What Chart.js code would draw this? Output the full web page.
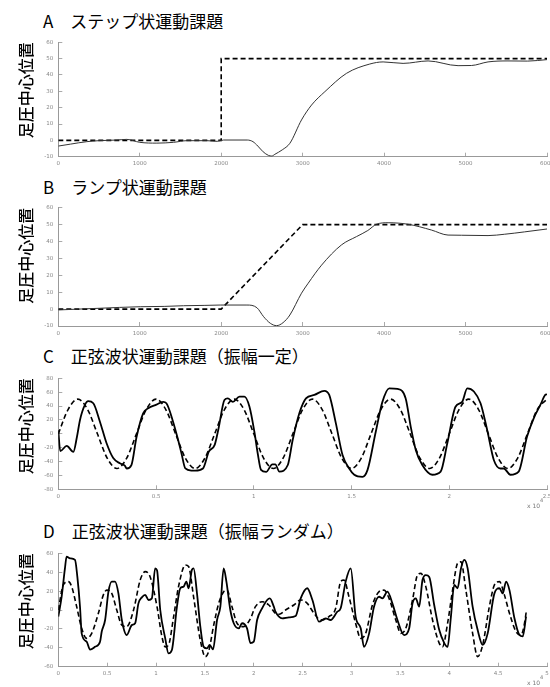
<!DOCTYPE html>
<html>
<head>
<meta charset="utf-8">
<script src="https://cdn.jsdelivr.net/npm/chart.js@4.4.0/dist/chart.umd.min.js"></script>
<style>
body { margin:0; width:550px; height:687px; overflow:hidden; background:#fff; position:relative; font-family:"Noto Sans CJK JP", sans-serif; }
.ttl { position:absolute; left:43px; font-size:17px; line-height:20px; white-space:pre; color:#000; }
canvas { position:absolute; left:0; }
</style>
</head>
<body>
<div class="ttl" style="top:11px">A　ステップ状運動課題</div>
<canvas id="cA" width="550" height="140" style="top:30px"></canvas>
<div class="ttl" style="top:177px">B　ランプ状運動課題</div>
<canvas id="cB" width="550" height="144" style="top:196px"></canvas>
<div class="ttl" style="top:346px">C　正弦波状運動課題（振幅一定）</div>
<canvas id="cC" width="550" height="148" style="top:366px"></canvas>
<div class="ttl" style="top:521px">D　正弦波状運動課題（振幅ランダム）</div>
<canvas id="cD" width="550" height="146" style="top:541px"></canvas>
<script>
// A: step
var aRefX = [0, 2000, 2000, 6000];
var aRefY = [0, 0, 50, 50];
var aRespX = [0, 150, 350, 500, 720, 840, 1000, 1210, 1415, 1580, 1825, 1950, 2030, 2320, 2390, 2450, 2515, 2580, 2620, 2660, 2750, 2843, 2986, 3109, 3273, 3538, 3824, 3988, 4233, 4540, 4908, 5072, 5276, 5521, 5763, 6000];
var aRespY = [-3.5, -2.3, -0.8, -0.2, 0.2, 0.6, -1.2, -1.7, -1.2, -0.2, -0.2, -0.6, 0.2, 0.2, -0.8, -3.5, -7, -9.2, -9.6, -8.5, -5.8, -1.8, 12.5, 21.6, 29.8, 41, 46.7, 48, 47.1, 48.6, 45.7, 45.8, 48, 48.6, 48.5, 49.4];

// B: ramp
var bRefX = [0, 2000, 3000, 6000];
var bRefY = [0, 0, 50, 50];
var bRespX = [0, 250, 511, 750, 1006, 1300, 1538, 1800, 1988, 2316, 2439, 2521, 2603, 2680, 2760, 2843, 2986, 3068, 3232, 3477, 3661, 3800, 3906, 4049, 4294, 4580, 4785, 4949, 5276, 5481, 5726, 6000];
var bRespY = [-0.5, 0, 0.5, 1, 1.4, 1.6, 2, 2.2, 2.4, 2.4, 0.8, -4.5, -8.4, -9.8, -8, -3.5, 9.4, 15.3, 26, 38, 42.9, 46.5, 50.2, 51.1, 50.2, 46.8, 43.8, 43.7, 43.5, 44.3, 45.7, 47.4];

// C: sine, constant amplitude (x in 10^4)
var cRefX = [0, 0.05, 0.1, 0.15, 0.2, 0.25, 0.3, 0.35, 0.4, 0.45, 0.5, 0.55, 0.6, 0.65, 0.7, 0.75, 0.8, 0.85, 0.9, 0.95, 1, 1.05, 1.1, 1.15, 1.2, 1.25, 1.3, 1.35, 1.4, 1.45, 1.5, 1.55, 1.6, 1.65, 1.7, 1.75, 1.8, 1.85, 1.9, 1.95, 2, 2.05, 2.1, 2.15, 2.2, 2.25, 2.3, 2.35, 2.4, 2.45, 2.5];
var cRefY = [0, 35, 50, 35, 0, -35, -50, -35, 0, 35, 50, 35, 0, -35, -50, -35, 0, 35, 50, 35, 0, -35, -50, -35, 0, 35, 50, 35, 0, -35, -50, -35, 0, 35, 50, 35, 0, -35, -50, -35, 0, 35, 50, 35, 0, -35, -50, -35, 0, 35, 50];
var cRespX = [0, 0.01, 0.043, 0.077, 0.095, 0.111, 0.136, 0.153, 0.179, 0.213, 0.247, 0.281, 0.315, 0.34, 0.35, 0.374, 0.4, 0.434, 0.46, 0.502, 0.536, 0.553, 0.587, 0.613, 0.63, 0.65, 0.68, 0.7, 0.74, 0.77, 0.8, 0.82, 0.85, 0.867, 0.893, 0.927, 0.952, 0.978, 1.003, 1.02, 1.037, 1.063, 1.095, 1.11, 1.131, 1.174, 1.199, 1.233, 1.267, 1.31, 1.361, 1.386, 1.42, 1.454, 1.488, 1.514, 1.556, 1.582, 1.624, 1.658, 1.693, 1.735, 1.777, 1.803, 1.829, 1.862, 1.913, 1.956, 1.99, 2.032, 2.066, 2.092, 2.126, 2.16, 2.194, 2.228, 2.262, 2.279, 2.313, 2.355, 2.398, 2.432, 2.466, 2.491, 2.5];
var cRespY = [5, -25, -17.5, -26, -5, 20, 41.6, 47, 44, 17.5, -13.7, -35, -42.5, -46, -50, -45, -5, 29.5, 36.8, 42, 46, 44, 17.5, -9, -28, -50, -53, -53, -50, -25.7, -16, 8, 48.8, 51, 46, 53.6, 53.6, 39, 3, -28, -52, -55, -44, -44, -54.5, -45, -9, 29.5, 51, 56, 62, 56, 15, -30.5, -50, -59, -62, -52, 3, 46, 65.6, 64.6, 51, 10, -23.6, -45, -59, -54.5, -13.7, 39, 46, 65.6, 61, 44, 5.5, -37.7, -50, -50, -59, -54.5, -4, 22.3, 41.6, 56, 57];

// D: sine, random amplitude (x in 10^4)
var dRefX = [0, 0.051, 0.103, 0.137, 0.188, 0.239, 0.29, 0.342, 0.41, 0.461, 0.496, 0.547, 0.598, 0.65, 0.7, 0.77, 0.838, 0.889, 0.94, 1.01, 1.06, 1.094, 1.128, 1.18, 1.23, 1.3, 1.333, 1.384, 1.453, 1.504, 1.538, 1.59, 1.641, 1.692, 1.726, 1.777, 1.829, 1.897, 1.966, 2.017, 2.085, 2.154, 2.222, 2.26, 2.325, 2.41, 2.48, 2.547, 2.616, 2.684, 2.769, 2.838, 2.889, 2.923, 2.974, 3.042, 3.094, 3.145, 3.214, 3.282, 3.333, 3.384, 3.453, 3.504, 3.555, 3.624, 3.675, 3.71, 3.76, 3.829, 3.897, 3.931, 3.983, 4.034, 4.085, 4.12, 4.17, 4.239, 4.29, 4.342, 4.41, 4.462, 4.513, 4.564, 4.616, 4.684, 4.735, 4.77, 4.79];
var dRefY = [0, 26.5, 30, 24.7, 3.5, -19.4, -30, -24.7, -3.5, 16, 21, 17.6, 0, -16, -17.6, 0, 31.7, 40.6, 35, 3.5, -28, -39, -37, -7, 24.7, 47.6, 46, 14, -32, -49.4, -44, -16, 7, 19.4, 21, 3.5, -14, -17.6, -9, 3.5, 8.8, 5.3, -3.5, -4.5, 0, 5.3, 10.6, 7, -3.5, -10.6, -7, 1.8, 30, 31.7, 14, -14, -30, -24.7, 5.3, 19.4, 21, 12.3, -10.6, -24.7, -19.4, 10.6, 37, 38.8, 24.7, -10.6, -35, -39, -14, 21, 49.4, 51, 21, -24.7, -49.4, -37, 3.5, 26.5, 30, 16, -3.5, -23, -26.5, -14, 0];
var dRespX = [0, 0.034, 0.068, 0.085, 0.12, 0.171, 0.195, 0.222, 0.239, 0.29, 0.325, 0.376, 0.427, 0.444, 0.479, 0.513, 0.547, 0.58, 0.615, 0.65, 0.7, 0.752, 0.786, 0.82, 0.855, 0.889, 0.923, 0.957, 0.991, 1.01, 1.043, 1.094, 1.128, 1.162, 1.214, 1.248, 1.282, 1.31, 1.333, 1.367, 1.384, 1.419, 1.453, 1.487, 1.521, 1.549, 1.583, 1.624, 1.658, 1.692, 1.72, 1.76, 1.795, 1.846, 1.88, 1.931, 1.966, 2.0, 2.034, 2.085, 2.137, 2.164, 2.205, 2.222, 2.291, 2.36, 2.428, 2.48, 2.547, 2.6, 2.667, 2.735, 2.786, 2.855, 2.889, 2.94, 2.992, 3.042, 3.094, 3.128, 3.18, 3.23, 3.282, 3.316, 3.367, 3.418, 3.47, 3.538, 3.59, 3.624, 3.658, 3.692, 3.726, 3.76, 3.795, 3.846, 3.897, 3.949, 3.983, 4.017, 4.051, 4.085, 4.12, 4.154, 4.188, 4.239, 4.29, 4.342, 4.393, 4.462, 4.513, 4.547, 4.581, 4.616, 4.667, 4.718, 4.752, 4.786];
var dRespY = [-7, 14, 44, 56.5, 54.7, 53, 35, 3.5, -24.7, -33.5, -42, -39, -33.5, -23, -10.6, 19.4, 30, 30, 17.6, -10.6, -26.5, -16, -14, 7, 13.4, 16, 10.6, 12.3, 44, 42, 0, -30, -46, -42.4, 3.5, 23, 24.7, 30, 23, 42.4, 44, 17.6, -17.6, -39, -40.6, -37, -41.7, -10.6, 3.5, 44, 30, 0, -14, -19.4, -14, -19.4, -35, -33.5, -10.6, 1.7, 10.6, 12.3, 3.5, -1.8, -8.8, -7.8, -6.4, 12.3, 23, 10.6, -12.4, -8.8, -10.6, -1.8, 1.8, 30, 44, -7, -19.4, -39, -24.7, 3.5, 14, 12.3, 19.4, 7, -10.6, -26.5, -19.4, 7, 12.3, 3.5, 31.7, 37, 35, 5.3, -21, -35, -39, -7, 26.5, 23, 44, 53, 44, 3.5, -21, -37, -24.7, 17.6, 23, 17.6, 30, 21, -8.8, -26.5, -28, -7];

var yLabel = '足圧中心位置';

function pts(xs, ys) {
  return xs.map(function (x, i) { return {x: x, y: ys[i]}; });
}

// "x 10^4" under the right end of the x axis
var expPlugin = {
  id: 'expLabel',
  afterDraw: function (chart, args, o) {
    if (!o.show) return;
    var ctx = chart.ctx, a = chart.chartArea;
    ctx.save();
    ctx.fillStyle = '#777';
    ctx.font = '6px "DejaVu Sans"';
    ctx.textAlign = 'left';
    ctx.textBaseline = 'middle';
    ctx.fillText('x 10', a.right - 20, a.bottom + o.dy);
    ctx.font = '5px "DejaVu Sans"';
    ctx.fillText('4', a.right - 7, a.bottom + o.dy - 6);
    ctx.restore();
  }
};

function makeChart(id, sets, xr, yr, padTop, xH, expDy) {
  new Chart(document.getElementById(id), {
    type: 'line',
    data: {datasets: sets},
    plugins: [expPlugin],
    options: {
      responsive: false,
      animation: false,
      layout: {padding: {top: padTop, right: 3, left: 0, bottom: 0}},
      elements: {point: {radius: 0}},
      plugins: {
        legend: {display: false},
        tooltip: {enabled: false},
        expLabel: {show: expDy != null, dy: expDy}
      },
      scales: {
        x: {
          type: 'linear', min: xr[0], max: xr[1],
          ticks: {stepSize: xr[2], autoSkip: false, maxRotation: 0, padding: 8, color: '#888',
                  font: {size: 5.5, family: 'DejaVu Sans'},
                  callback: function (v) { return String(v); }},
          grid: {drawOnChartArea: false, tickLength: -4, color: '#aaa'},
          border: {color: '#999'},
          afterFit: function (s) { s.height = xH; s.paddingLeft = 0; s.paddingRight = 0; }
        },
        y: {
          min: yr[0], max: yr[1],
          ticks: {stepSize: yr[2], padding: 9, color: '#888', font: {size: 5.5, family: 'DejaVu Sans'}},
          grid: {drawOnChartArea: false, tickLength: -4, color: '#aaa'},
          border: {color: '#999'},
          title: {display: true, text: yLabel, align: 'end', color: '#000',
                  font: {size: 16, family: 'Noto Sans CJK JP', weight: '500'}, padding: {top: 16, bottom: 0}},
          afterFit: function (s) { s.width = 58.3; s.paddingTop = 0; s.paddingBottom = 0; }
        }
      }
    }
  });
}

function refSet(d, smooth) {
  return {data: d, borderColor: '#000', borderWidth: 1.6, borderDash: [5, 3],
          tension: 0, cubicInterpolationMode: smooth ? 'monotone' : 'default', fill: false};
}
function respSet(d, w, col) {
  return {data: d, borderColor: col, borderWidth: w, cubicInterpolationMode: 'monotone', fill: false};
}

makeChart('cA', [respSet(pts(aRespX, aRespY), 1, '#333'), refSet(pts(aRefX, aRefY), false)],
          [0, 6000, 1000], [-10, 60, 10], 12.3, 13.3, null);
makeChart('cB', [respSet(pts(bRespX, bRespY), 1, '#333'), refSet(pts(bRefX, bRefY), false)],
          [0, 6000, 1000], [-10, 60, 10], 11.7, 14, null);
makeChart('cC', [respSet(pts(cRespX, cRespY), 1.8, '#000'), refSet(pts(cRefX, cRefY), true)],
          [0, 2.5, 0.5], [-80, 80, 20], 12.3, 24.7, 17.5);
makeChart('cD', [respSet(pts(dRespX, dRespY), 1.8, '#000'), refSet(pts(dRefX, dRefY), true)],
          [0, 5, 0.5], [-60, 60, 20], 12.3, 20.3, 17);
</script>
</body>
</html>
